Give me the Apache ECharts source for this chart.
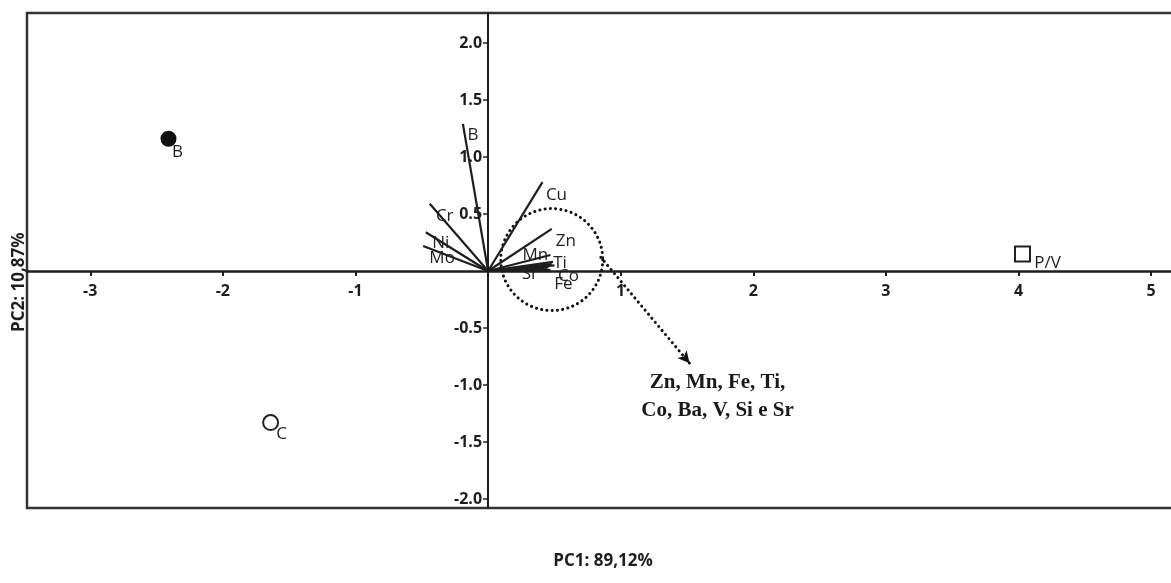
<!DOCTYPE html>
<html>
<head>
<meta charset="utf-8">
<script src="https://cdn.jsdelivr.net/npm/echarts@6/dist/echarts.min.js"></script>
<style>html,body{margin:0;padding:0;background:#fff;}#c{width:1171px;height:583px;}</style>
</head>
<body>
<div id="c"></div>
<script>
// ---- data ----
const xTicks = [-3, -2, -1, 1, 2, 3, 4, 5];
const yTicks = [-2, -1.5, -1, -0.5, 0.5, 1, 1.5, 2];
const sampleNames = ['B', 'C', 'P/V'];
const samplePC1 = [-2.41, -1.64, 4.03];
const samplePC2 = [1.16, -1.33, 0.15];
const varNames = ['B', 'Cu', 'Cr', 'Ni', 'Mo', 'Zn', 'Mn', 'Ti', 'Sr', 'Co', 'Ba', 'V', 'Si', 'Fe'];
const varPC1 = [-0.19, 0.41, -0.44, -0.47, -0.49, 0.48, 0.47, 0.49, 0.42, 0.50, 0.48, 0.46, 0.45, 0.47];
const varPC2 = [1.29, 0.78, 0.59, 0.34, 0.22, 0.37, 0.14, 0.08, 0.02, 0.05, 0.06, 0.04, 0.03, 0.01];
const clusterCenter = [0.48, 0.10];
const arrowFrom = [0.85, 0.12];
const arrowTo = [1.52, -0.81];
const noteAt = [1.73, -1.10];
const noteText = 'Zn, Mn, Fe, Ti,\nCo, Ba, V, Si e Sr';
const xName = 'PC1: 89,12%';
const yName = 'PC2: 10,87%';

// ---- styles ----
const labelOffsets = {
  B: [10, 11], Cu: [14, 13], Cr: [15, 12], Ni: [15, 11], Mo: [19, 12], Zn: [14, 12],
  Mn: [-15, 0], Ti: [7, 1], Sr: [-14, 5], Co: [14, 11], Ba: [22, 9], V: [18, 13], Si: [-50, 0], Fe: [13, 14]
};
const hiddenLabels = ['Ba', 'V', 'Si'];
const sampleSymbols = [
  {symbol: 'circle', size: 14, color: '#111', border: '#111', off: [9, 13]},
  {symbol: 'circle', size: 15, color: '#fff', border: '#222', off: [11, 12]},
  {symbol: 'rect', size: 15, color: '#fff', border: '#222', off: [25, 9]}
];
const ink = '#1e1e1e';
const sans = '"Open Sans", "DejaVu Sans", sans-serif';
const dots = [0.1, 5.2];
const solid = {opacity: 1};

const chart = echarts.init(document.getElementById('c'), null, {renderer: 'canvas'});

const vecLines = varNames.map((n, i) => ({coords: [[0, 0], [varPC1[i], varPC2[i]]]}));
const vecLabels = varNames.map((n, i) => ({
  value: [varPC1[i], varPC2[i]],
  label: {show: hiddenLabels.indexOf(n) < 0, formatter: n, offset: labelOffsets[n]}
}));
const samples = sampleNames.map((n, i) => ({
  value: [samplePC1[i], samplePC2[i]],
  symbol: sampleSymbols[i].symbol,
  symbolSize: sampleSymbols[i].size,
  itemStyle: {color: sampleSymbols[i].color, borderColor: sampleSymbols[i].border, borderWidth: 2, opacity: 1},
  label: {show: true, formatter: n, offset: sampleSymbols[i].off}
}));
const xTickLabels = xTicks.map(t => ({value: [t, 0], label: {formatter: String(t)}}));
const yTickLabels = yTicks.map(t => ({value: [0, t], label: {formatter: t.toFixed(1)}}));

chart.setOption({
  animation: false,
  backgroundColor: '#fff',
  grid: {left: 27, top: 13, right: -4, bottom: 75, outerBoundsMode: 'none', containLabel: false,
    show: true, borderColor: '#333', borderWidth: 2.5, backgroundColor: 'transparent'},
  xAxis: {
    type: 'value', min: -3.477, max: 5.18,
    splitLine: {show: false},
    axisLine: {onZero: true, lineStyle: {color: ink, width: 2.5}},
    axisTick: {show: true, customValues: xTicks, length: 5, lineStyle: {color: ink, width: 2}},
    axisLabel: {show: false}
  },
  yAxis: {
    type: 'value', min: -2.079, max: 2.263,
    splitLine: {show: false},
    axisLine: {onZero: true, lineStyle: {color: ink, width: 2}},
    axisTick: {show: true, customValues: yTicks, length: 5, lineStyle: {color: ink, width: 1.5}},
    axisLabel: {show: false}
  },
  series: [
    {
      type: 'lines', coordinateSystem: 'cartesian2d', silent: true, z: 3,
      lineStyle: {color: ink, width: 2.2, opacity: 1},
      data: vecLines
    },
    {
      type: 'scatter', silent: true, symbolSize: 0, z: 4, itemStyle: solid,
      label: {show: true, position: 'inside', color: '#222', fontFamily: sans, fontSize: 17},
      data: vecLabels
    },
    {
      type: 'scatter', silent: true, z: 5, itemStyle: solid,
      label: {position: 'inside', color: ink, fontFamily: sans, fontSize: 17},
      data: samples
    },
    {
      type: 'scatter', silent: true, symbolSize: 0, z: 6, itemStyle: solid,
      label: {show: true, position: 'bottom', distance: 12, color: ink, fontFamily: sans, fontWeight: 'bold', fontSize: 16},
      data: xTickLabels
    },
    {
      type: 'scatter', silent: true, symbolSize: 0, z: 6, itemStyle: solid,
      label: {show: true, position: 'left', distance: 6, color: ink, fontFamily: sans, fontWeight: 'bold', fontSize: 16},
      data: yTickLabels
    },
    {
      type: 'scatter', silent: true, z: 2,
      symbol: 'circle', symbolSize: 102,
      itemStyle: {color: 'transparent', borderColor: '#111', borderWidth: 3, borderType: dots, borderCap: 'round', opacity: 1},
      data: [clusterCenter],
      markLine: {
        silent: true, symbol: ['none', 'arrow'], symbolSize: [9, 12],
        label: {show: false},
        lineStyle: {color: '#111', width: 3, type: dots, cap: 'round', opacity: 1},
        data: [[{coord: arrowFrom}, {coord: arrowTo}]]
      }
    },
    {
      type: 'scatter', silent: true, symbolSize: 0, z: 6, itemStyle: solid,
      label: {show: true, position: 'inside', formatter: noteText, color: '#1a1a1a',
        fontFamily: '"Liberation Serif", "Times New Roman", serif', fontWeight: 'bold', fontSize: 21, lineHeight: 28, align: 'center'},
      data: [noteAt]
    }
  ],
  graphic: [
    {type: 'text', x: 603, y: 553, style: {text: xName, fill: ink, font: 'bold 17px ' + sans, textAlign: 'center'}},
    {type: 'text', x: 11, y: 332, rotation: Math.PI / 2, style: {text: yName, fill: ink, font: 'bold 17px ' + sans}}
  ]
});
</script>
</body>
</html>
